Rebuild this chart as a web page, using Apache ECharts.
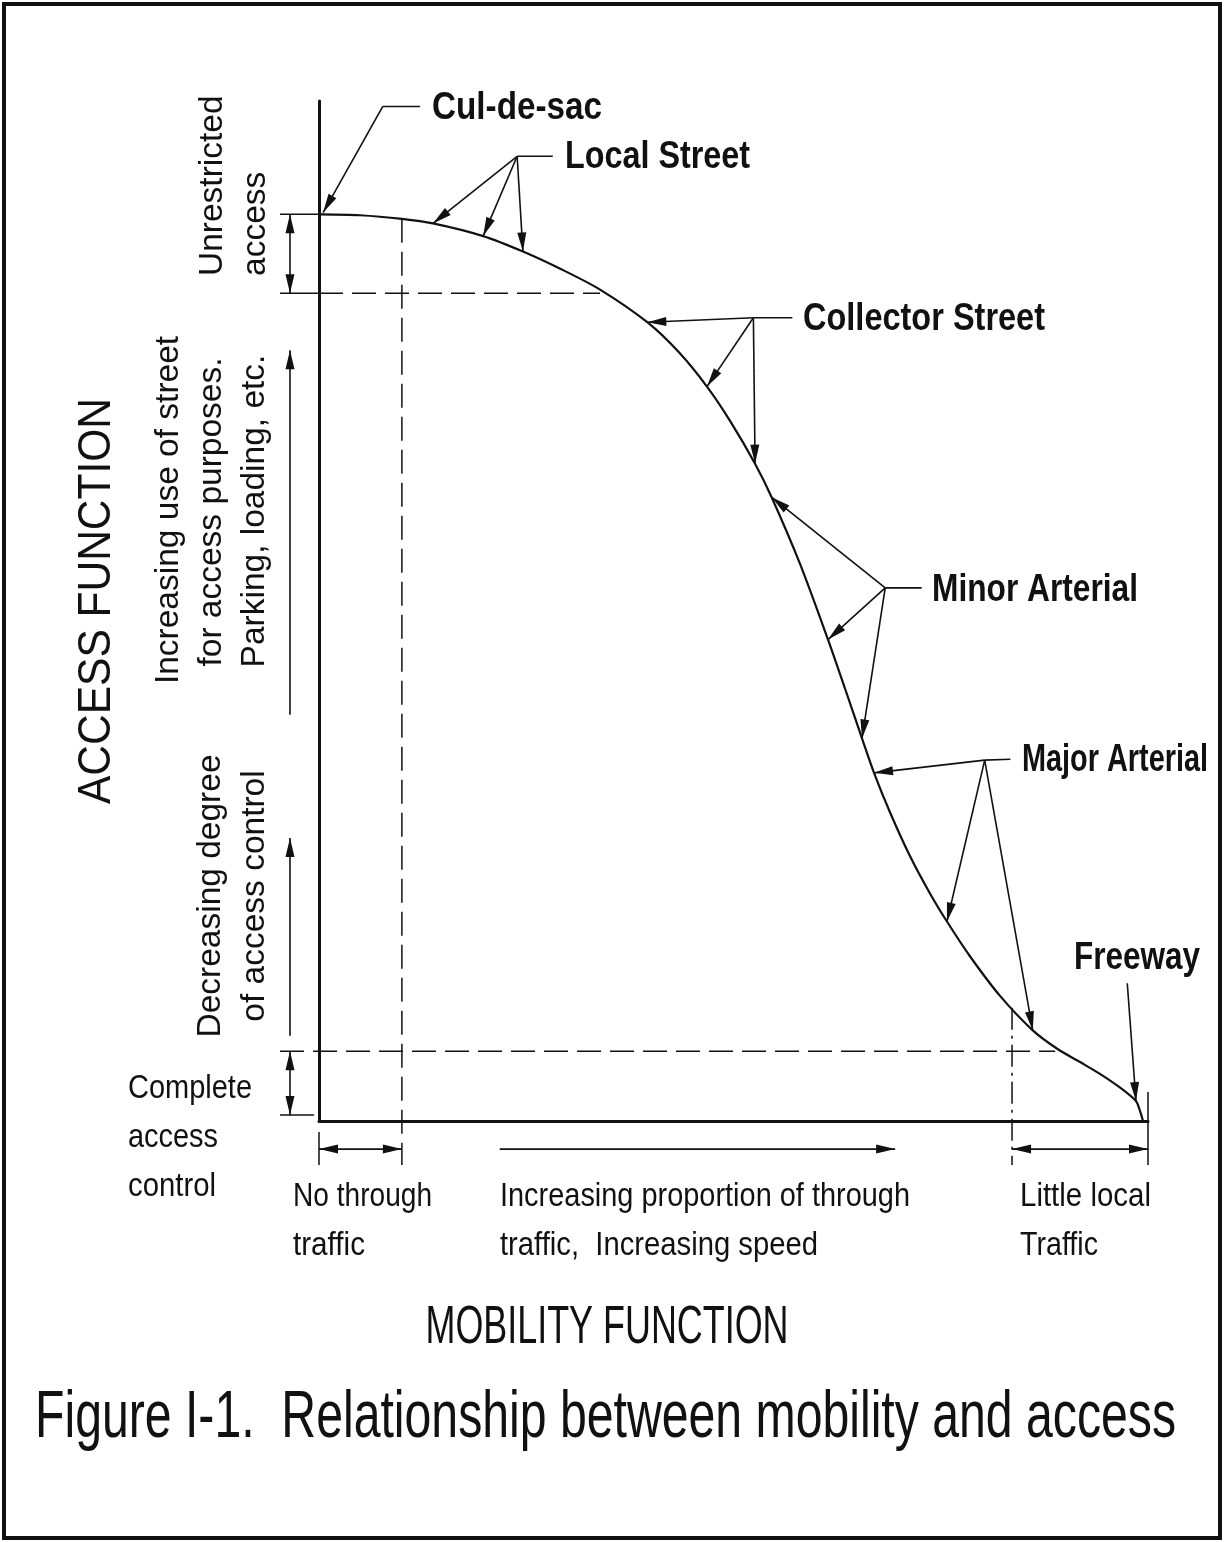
<!DOCTYPE html>
<html>
<head>
<meta charset="utf-8">
<title>Relationship between mobility and access</title>
<script src="https://cdn.jsdelivr.net/npm/echarts@6/dist/echarts.min.js"></script>
<style>
  html, body { margin: 0; padding: 0; background: #fff; }
  #chart { width: 1225px; height: 1542px; }
</style>
</head>
<body>
<div id="chart"></div>
<script>
// mobility on x (0..100), access on y (0 = complete control, 100 = unrestricted)
const curveMobility = [0.24, 4.95, 10.0, 13.75, 19.8, 24.6, 29.1, 33.9, 39.6, 43.5, 46.8, 49.6, 52.6, 54.6, 58.0, 61.4,
  63.45, 65.5, 66.95, 68.9, 71.3, 73.7, 75.75, 78.5, 82.15, 86.1, 89.0, 91.8, 94.2, 96.6, 98.55, 99.0, 99.4];
const curveAccess = [100.0, 99.9, 99.5, 99.0, 97.6, 95.9, 94.0, 91.7, 88.1, 84.7, 81.0, 77.2, 72.5, 68.8, 61.5, 53.1,
  47.7, 42.2, 38.4, 34.0, 29.2, 25.1, 22.0, 18.2, 13.8, 10.0, 8.0, 6.5, 5.2, 3.7, 2.2, 1.2, 0.0];

// leader / dimension segments: [x1, y1, x2, y2, heads]  heads: 0 none, 1 at end, 2 both ends
const leaderSegments = [
  [12.2, 111.9, 7.7, 111.9, 0], [7.7, 111.9, 0.5, 100.2, 1],                       // Cul-de-sac
  [28.2, 106.4, 23.9, 106.4, 0], [23.9, 106.4, 13.75, 99.0, 1],
  [23.9, 106.4, 19.8, 97.6, 1], [23.9, 106.4, 24.6, 95.9, 1],                        // Local Street
  [57.1, 88.6, 52.4, 88.6, 0], [52.4, 88.6, 39.6, 88.1, 1],
  [52.4, 88.6, 46.8, 81.0, 1], [52.4, 88.6, 52.6, 72.5, 1],                          // Collector Street
  [72.7, 58.8, 68.3, 58.8, 0], [68.3, 58.8, 54.6, 68.8, 1],
  [68.3, 58.8, 61.4, 53.1, 1], [68.3, 58.8, 65.5, 42.2, 1],                          // Minor Arterial
  [83.4, 39.9, 80.3, 39.8, 0], [80.3, 39.8, 66.95, 38.4, 1],
  [80.3, 39.8, 75.75, 22.0, 1], [80.3, 39.8, 86.1, 10.0, 1],                         // Major Arterial
  [97.5, 15.2, 98.55, 2.2, 1],                                                       // Freeway
  [-3.5, 100, -3.5, 91.3, 2], [-3.5, 44.8, -3.5, 85.0, 1],
  [-3.5, 9.4, -3.5, 31.2, 1], [-3.5, 7.7, -3.5, 0.66, 2],                            // left dimensions
  [0, -3.1, 10.0, -3.1, 2], [21.8, -3.1, 69.5, -3.1, 1], [83.6, -3.1, 100, -3.1, 2]   // bottom dimensions
];

// guide lines: [x1, y1, x2, y2, dash]  dash: 0 solid, 1 dashed, 2 dash-dot
const guideSegments = [
  [-4.7, 100, 0.3, 100, 0],
  [-4.7, 91.3, 0, 91.3, 0],
  [0, 91.3, 33.9, 91.3, 1],
  [10.0, 99.5, 10.0, -4.85, 1],
  [-4.7, 7.7, 88.8, 7.7, 1],
  [-4.7, 0.66, -0.6, 0.66, 0],
  [83.6, 12.5, 83.6, -4.85, 2],
  [0, -1.2, 0, -4.85, 0],
  [100, 3.2, 100, -4.85, 0]
];

const FONT = '"Liberation Sans", Arial, Helvetica, sans-serif';

// text layout (pixels); width = target drawn length, used to squeeze the face like the scan
const textLabels = [
  { text: 'Cul-de-sac', x: 432, y: 108, size: 39, bold: true, width: 170 },
  { text: 'Local Street', x: 565, y: 157, size: 39, bold: true, width: 185 },
  { text: 'Collector Street', x: 803, y: 319, size: 39, bold: true, width: 242 },
  { text: 'Minor Arterial', x: 932, y: 590, size: 39, bold: true, width: 206 },
  { text: 'Major Arterial', x: 1022, y: 760, size: 39, bold: true, width: 186 },
  { text: 'Freeway', x: 1074, y: 958, size: 39, bold: true, width: 126 },

  { text: 'No through', x: 293, y: 1197, size: 33.5, width: 139 },
  { text: 'traffic', x: 293, y: 1246, size: 33.5, width: 72 },
  { text: 'Increasing proportion of through', x: 500, y: 1197, size: 33.5, width: 410 },
  { text: 'traffic,  Increasing speed', x: 500, y: 1246, size: 33.5, width: 318 },
  { text: 'Little local', x: 1020, y: 1197, size: 33.5, width: 131 },
  { text: 'Traffic', x: 1020, y: 1246, size: 33.5, width: 78 },
  { text: 'Complete', x: 128, y: 1089, size: 33.5, width: 124 },
  { text: 'access', x: 128, y: 1138, size: 33.5, width: 90 },
  { text: 'control', x: 128, y: 1187, size: 33.5, width: 88 },

  { text: 'MOBILITY FUNCTION', x: 607, y: 1328, size: 53, width: 363, align: 'center' },
  { text: 'Figure I-1.  Relationship between mobility and access', x: 35, y: 1419, size: 66, width: 1141 },

  { text: 'ACCESS FUNCTION', x: 97, y: 601, size: 46, width: 406, align: 'center', rotate: true },
  { text: 'Unrestricted', x: 213, y: 276, size: 33.5, rotate: true },
  { text: 'access', x: 256, y: 276, size: 33.5, rotate: true },
  { text: 'Increasing use of street', x: 169, y: 510, size: 33.5, align: 'center', rotate: true },
  { text: 'for access purposes.', x: 212, y: 512, size: 33.5, align: 'center', rotate: true },
  { text: 'Parking, loading, etc.', x: 255, y: 511, size: 33.5, align: 'center', rotate: true },
  { text: 'Decreasing degree', x: 211, y: 896, size: 33.5, align: 'center', rotate: true },
  { text: 'of access control', x: 255, y: 896, size: 33.5, align: 'center', rotate: true }
];

const measureCtx = document.createElement('canvas').getContext('2d');

function textElement(t) {
  const weight = t.bold ? 'bold' : 'normal';
  measureCtx.font = weight + ' ' + t.size + 'px ' + FONT;
  const natural = measureCtx.measureText(t.text).width;
  return {
    type: 'text',
    x: t.x,
    y: t.y,
    rotation: t.rotate ? Math.PI / 2 : 0,
    scaleX: t.width ? t.width / natural : 1,
    silent: true,
    style: {
      text: t.text,
      fontSize: t.size,
      fontWeight: weight,
      fontFamily: FONT,
      fill: '#111',
      align: t.align || 'left',
      verticalAlign: 'middle'
    }
  };
}

function arrowHead(tip, from) {
  const dx = tip[0] - from[0];
  const dy = tip[1] - from[1];
  const d = Math.hypot(dx, dy) || 1;
  const ux = dx / d, uy = dy / d;
  const len = 19, half = 4.5;
  const bx = tip[0] - ux * len, by = tip[1] - uy * len;
  return {
    type: 'polygon',
    shape: { points: [tip, [bx - uy * half, by + ux * half], [bx + uy * half, by - ux * half]] },
    style: { fill: '#111' }
  };
}

function renderLeader(params, api) {
  const p1 = api.coord([api.value(0), api.value(1)]);
  const p2 = api.coord([api.value(2), api.value(3)]);
  const heads = api.value(4);
  const children = [{
    type: 'line',
    shape: { x1: p1[0], y1: p1[1], x2: p2[0], y2: p2[1] },
    style: { stroke: '#111', lineWidth: 1.6 }
  }];
  if (heads >= 1) children.push(arrowHead(p2, p1));
  if (heads === 2) children.push(arrowHead(p1, p2));
  return { type: 'group', children: children };
}

function renderGuide(params, api) {
  const p1 = api.coord([api.value(0), api.value(1)]);
  const p2 = api.coord([api.value(2), api.value(3)]);
  const dash = api.value(4);
  return {
    type: 'line',
    shape: { x1: p1[0], y1: p1[1], x2: p2[0], y2: p2[1] },
    style: {
      stroke: '#111',
      lineWidth: 1.5,
      lineDash: dash === 1 ? [24, 9] : dash === 2 ? [22, 6, 3, 6] : null
    }
  };
}

const chart = echarts.init(document.getElementById('chart'), null, { renderer: 'canvas' });

const axisCommon = {
  type: 'value',
  splitLine: { show: false },
  axisTick: { show: false },
  axisLabel: { show: false },
  axisLine: { show: true, lineStyle: { color: '#111', width: 3 } }
};

const option = {
  backgroundColor: '#fff',
  animation: false,
  grid: { left: 319, right: 77, top: 101, bottom: 421 },
  xAxis: Object.assign({ min: 0, max: 100 }, axisCommon),
  yAxis: Object.assign({ min: 0, max: 112.5 }, axisCommon),
  graphic: [{
    type: 'rect',
    shape: { x: 4, y: 4, width: 1216, height: 1534 },
    style: { fill: 'none', stroke: '#111', lineWidth: 4 },
    silent: true
  }].concat(textLabels.map(textElement)),
  series: [
    {
      name: 'Mobility vs access',
      type: 'line',
      data: curveMobility.map((m, i) => [m, curveAccess[i]]),
      showSymbol: false,
      smooth: 0.3,
      lineStyle: { color: '#111', width: 2.2 },
      silent: true
    },
    {
      name: 'guides',
      type: 'custom',
      renderItem: renderGuide,
      data: guideSegments,
      clip: false,
      silent: true
    },
    {
      name: 'leaders',
      type: 'custom',
      renderItem: renderLeader,
      data: leaderSegments,
      clip: false,
      silent: true
    }
  ]
};

chart.setOption(option);
</script>
</body>
</html>
